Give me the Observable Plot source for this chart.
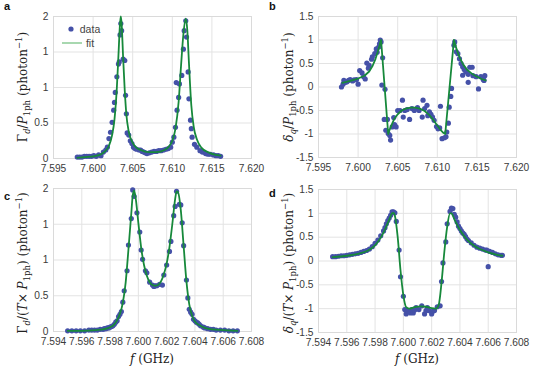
<!DOCTYPE html>
<html><head><meta charset="utf-8">
<script src="https://cdn.jsdelivr.net/npm/d3@7"></script>
<script src="https://cdn.jsdelivr.net/npm/@observablehq/plot@0.6"></script>
<style>
body{margin:0;background:#fff;}
#wrap{position:relative;width:534px;height:375px;overflow:hidden;font-family:"Liberation Sans",Arial,sans-serif;background:#fff;}
.panel{position:absolute;}
.letter{position:absolute;font-weight:bold;font-size:11px;color:#111;line-height:12px;}
</style></head><body><div id="wrap"></div>
<script>
// ---------- Panel a: Γd/P1ph vs f ----------
const aDataF = [7.5980,7.5983,7.5986,7.5989,7.5992,7.5995,7.5998,7.6001,7.6004,7.6007,7.6010,7.6013,7.6016,7.6018,7.6020,7.6022,7.6024,7.6026,7.6027,7.6028,7.6030,7.6032,7.6033,7.6034,7.6035,7.6036,7.6038,7.6040,7.6041,7.6042,7.6043,7.6045,7.6047,7.6049,7.6051,7.6053,7.6055,7.6058,7.6060,7.6062,7.6064,7.6066,7.6068,7.6071,7.6074,7.6077,7.6080,7.6083,7.6086,7.6089,7.6092,7.6095,7.6098,7.6100,7.6102,7.6104,7.6105,7.6106,7.6108,7.6109,7.6112,7.6114,7.6115,7.6117,7.6118,7.6120,7.6121,7.6123,7.6124,7.6125,7.6128,7.6131,7.6135,7.6138,7.6142,7.6145,7.6148,7.6152,7.6155,7.6158,7.6161];
const aDataV = [0.02,0.02,0.02,0.03,0.03,0.03,0.03,0.04,0.03,0.05,0.04,0.09,0.12,0.16,0.28,0.37,0.51,0.68,0.79,0.93,1.15,1.33,1.36,1.74,1.90,1.80,1.40,1.38,0.89,0.63,0.36,0.33,0.25,0.21,0.16,0.14,0.13,0.12,0.12,0.10,0.09,0.08,0.07,0.08,0.09,0.10,0.10,0.11,0.11,0.12,0.13,0.14,0.16,0.23,0.30,0.44,1.07,0.68,0.86,1.05,1.17,1.54,1.80,1.94,1.71,1.22,0.84,0.54,0.42,0.30,0.20,0.16,0.11,0.09,0.07,0.06,0.06,0.05,0.04,0.04,0.03];
const aFitF = [7.5980,7.5990,7.6000,7.6010,7.6015,7.6020,7.6024,7.6027,7.6030,7.6032,7.6034,7.6035,7.6036,7.6038,7.6040,7.6042,7.6045,7.6050,7.6055,7.6060,7.6070,7.6080,7.6090,7.6095,7.6100,7.6104,7.6108,7.6111,7.6114,7.6117,7.6119,7.6121,7.6124,7.6127,7.6131,7.6137,7.6145,7.6155,7.6161];
const aFitV = [0.01,0.02,0.03,0.06,0.10,0.18,0.33,0.55,1.00,1.45,1.90,2.00,1.90,1.40,0.95,0.62,0.38,0.22,0.15,0.12,0.09,0.09,0.12,0.16,0.25,0.42,0.80,1.30,1.75,1.97,1.80,1.35,0.75,0.45,0.27,0.15,0.09,0.05,0.04];

// ---------- Panel b: δq/P1ph vs f ----------
const bDataF = [7.5979,7.5981,7.5982,7.5984,7.5986,7.5988,7.5990,7.5993,7.5995,7.5998,7.6000,7.6002,7.6005,7.6007,7.6009,7.6011,7.6013,7.6014,7.6017,7.6018,7.6021,7.6023,7.6024,7.6026,7.6027,7.6028,7.6029,7.6031,7.6030,7.6034,7.6033,7.6035,7.6037,7.6038,7.6040,7.6041,7.6043,7.6045,7.6046,7.6048,7.6050,7.6053,7.6056,7.6057,7.6059,7.6062,7.6065,7.6068,7.6071,7.6075,7.6077,7.6081,7.6082,7.6084,7.6087,7.6088,7.6090,7.6092,7.6094,7.6096,7.6099,7.6101,7.6103,7.6104,7.6106,7.6109,7.6111,7.6112,7.6114,7.6115,7.6117,7.6118,7.6121,7.6122,7.6124,7.6126,7.6128,7.6130,7.6132,7.6132,7.6134,7.6136,7.6139,7.6139,7.6141,7.6144,7.6145,7.6149,7.6152,7.6155,7.6158,7.6159,7.6160];
const bDataV = [0.00,0.06,0.14,0.10,0.11,0.14,0.16,0.13,0.15,0.16,0.06,0.35,0.30,0.22,0.17,0.51,0.40,0.46,0.59,0.64,0.71,0.81,0.74,0.85,0.92,1.00,0.96,0.62,0.04,-0.05,-0.69,-0.92,-0.69,-0.99,-1.03,-1.13,-0.85,-0.65,-0.80,-0.85,-0.50,-0.50,-0.28,-0.64,-0.50,-0.48,-0.69,-0.46,-0.50,-0.44,-0.50,-0.64,-0.28,-0.46,-0.39,-0.61,-0.53,-0.58,-0.64,-0.71,-0.84,-0.89,-0.87,-0.41,-1.10,-1.08,-1.06,-0.96,-0.77,-0.43,-0.20,-0.03,0.89,0.96,0.75,0.71,0.60,0.50,0.43,0.25,0.37,0.32,0.27,0.10,0.42,0.42,0.24,0.22,-0.04,0.22,0.16,0.14,0.24];
const bFitF = [7.5980,7.5990,7.6000,7.6008,7.6014,7.6018,7.6022,7.6025,7.6027,7.6028,7.6029,7.6038,7.6040,7.6043,7.6046,7.6050,7.6055,7.6060,7.6066,7.6072,7.6078,7.6084,7.6090,7.6095,7.6100,7.6104,7.6108,7.6110,7.6121,7.6123,7.6126,7.6129,7.6133,7.6138,7.6144,7.6150,7.6156,7.6161];
const bFitV = [0.09,0.13,0.18,0.24,0.33,0.44,0.60,0.76,0.88,0.95,1.00,-1.00,-0.90,-0.78,-0.67,-0.58,-0.50,-0.46,-0.44,-0.44,-0.46,-0.51,-0.60,-0.70,-0.82,-0.91,-0.98,-1.00,1.00,0.88,0.72,0.60,0.47,0.36,0.28,0.22,0.17,0.14];

// ---------- Panel c: Γd/(T×P1ph) vs f ----------
const cDataF = [7.5950,7.5953,7.5956,7.5959,7.5962,7.5965,7.5967,7.5969,7.5971,7.5973,7.5975,7.5976,7.5977,7.5978,7.5979,7.5980,7.5981,7.5982,7.5983,7.5984,7.5985,7.5986,7.5987,7.5988,7.5989,7.5990,7.5992,7.5993,7.5995,7.5996,7.5997,7.5999,7.6001,7.6002,7.6003,7.6005,7.6006,7.6008,7.6010,7.6011,7.6012,7.6013,7.6015,7.6017,7.6018,7.6020,7.6022,7.6023,7.6025,7.6026,7.6027,7.6029,7.6030,7.6031,7.6032,7.6034,7.6035,7.6036,7.6037,7.6038,7.6039,7.6040,7.6041,7.6042,7.6043,7.6044,7.6046,7.6047,7.6049,7.6051,7.6053,7.6055,7.6058,7.6061,7.6064,7.6067,7.6070];
const cDataV = [0.01,0.01,0.01,0.01,0.01,0.02,0.02,0.02,0.02,0.03,0.03,0.04,0.04,0.05,0.05,0.06,0.07,0.08,0.10,0.13,0.15,0.21,0.24,0.28,0.41,0.57,0.85,1.21,1.58,1.98,1.89,1.66,1.39,1.14,1.01,0.85,0.82,0.69,0.65,0.63,0.64,0.64,0.66,0.65,0.79,0.93,1.12,1.26,1.62,1.75,1.96,1.78,1.77,1.52,1.20,0.72,0.47,0.31,0.27,0.24,0.17,0.15,0.13,0.12,0.10,0.08,0.06,0.05,0.04,0.03,0.03,0.02,0.02,0.02,0.01,0.01,0.01];
const cFitF = [7.5950,7.5960,7.5970,7.5975,7.5980,7.5983,7.5985,7.5987,7.5989,7.5991,7.5993,7.5995,7.5996,7.5997,7.5998,7.6000,7.6002,7.6004,7.6006,7.6008,7.6010,7.6012,7.6014,7.6016,7.6018,7.6020,7.6022,7.6024,7.6026,7.6027,7.6028,7.6030,7.6032,7.6034,7.6036,7.6038,7.6040,7.6043,7.6047,7.6052,7.6060,7.6070];
const cFitV = [0.01,0.01,0.02,0.03,0.06,0.10,0.16,0.25,0.40,0.68,1.15,1.65,1.90,1.97,1.88,1.52,1.17,0.93,0.78,0.69,0.65,0.64,0.65,0.70,0.80,0.95,1.18,1.50,1.85,1.96,1.95,1.70,1.20,0.70,0.38,0.22,0.14,0.09,0.05,0.03,0.02,0.01];

// ---------- Panel d: δq/(T×P1ph) vs f ----------
const dDataF = [7.5950,7.5952,7.5954,7.5956,7.5958,7.5960,7.5962,7.5964,7.5966,7.5968,7.5970,7.5972,7.5974,7.5976,7.5978,7.5980,7.5982,7.5984,7.5986,7.5987,7.5988,7.5989,7.5990,7.5991,7.5992,7.5993,7.5994,7.5995,7.5997,7.5998,7.6000,7.6001,7.6002,7.6003,7.6004,7.6005,7.6006,7.6007,7.6008,7.6009,7.6011,7.6013,7.6015,7.6016,7.6017,7.6018,7.6020,7.6021,7.6022,7.6024,7.6026,7.6027,7.6028,7.6030,7.6031,7.6033,7.6034,7.6035,7.6036,7.6037,7.6038,7.6039,7.6040,7.6041,7.6042,7.6043,7.6044,7.6045,7.6046,7.6048,7.6050,7.6052,7.6054,7.6056,7.6058,7.6059,7.6060,7.6061,7.6063,7.6065,7.6067,7.6069,7.6070];
const dDataV = [0.09,0.09,0.10,0.11,0.11,0.12,0.13,0.14,0.15,0.16,0.18,0.20,0.22,0.25,0.30,0.37,0.44,0.53,0.63,0.70,0.78,0.85,0.90,0.96,1.03,1.03,1.01,0.83,0.23,-0.33,-0.74,-1.02,-1.11,-1.04,-1.06,-1.09,-1.02,-1.09,-1.03,-0.98,-1.02,-0.94,-1.11,-1.04,-0.98,-1.04,-1.11,-1.05,-1.04,-0.96,-0.94,-0.43,-0.04,0.40,0.78,1.04,1.11,1.10,0.98,0.92,0.82,0.73,0.68,0.63,0.59,0.56,0.51,0.46,0.43,0.38,0.33,0.29,0.27,0.25,0.23,0.23,-0.12,0.20,0.18,0.15,0.13,0.12,0.12];
const dFitF = [7.5950,7.5960,7.5968,7.5975,7.5980,7.5984,7.5987,7.5990,7.5992,7.5993,7.5994,7.5996,7.5998,7.6000,7.6002,7.6004,7.6008,7.6012,7.6016,7.6020,7.6023,7.6025,7.6027,7.6029,7.6031,7.6033,7.6034,7.6036,7.6040,7.6045,7.6050,7.6055,7.6060,7.6065,7.6070];
const dFitV = [0.08,0.11,0.15,0.22,0.33,0.49,0.66,0.87,1.00,1.01,0.95,0.50,-0.20,-0.72,-0.97,-1.00,-0.97,-0.95,-0.96,-0.99,-1.00,-0.92,-0.45,0.20,0.72,1.00,1.00,0.88,0.65,0.45,0.32,0.24,0.18,0.14,0.11];

// ---------- ticks ----------
const xTicksTop = [7.595,7.600,7.605,7.610,7.615,7.620];
const xTicksBottom = [7.594,7.596,7.598,7.600,7.602,7.604,7.606,7.608];
const gammaTicks = [0,0.5,1,1.5,2];
const gammaTickLabels = ["0","0.5","1","1","2"];
const deltaTicks = [-1.5,-1,-0.5,0,0.5,1,1.5];
const deltaTickLabels = ["-1.5","-1","-0.5","0","0.5","1","1.5"];

const DOT = "#4551a8", FIT = "#17893b", GRID = "#e3e3e3", TXT = "#3a3a3a";

const wrap = document.getElementById("wrap");

function addYLabel(svg, x, y, parts) {
  const t = d3.select(svg).append("text")
    .attr("transform", `translate(${x},${y}) rotate(-90)`)
    .attr("text-anchor", "middle")
    .attr("font-family", "DejaVu Serif, serif")
    .attr("font-size", 12)
    .attr("fill", "#222");
  let shift = 0;
  for (const p of parts) {
    const s = t.append("tspan").text(p.t);
    const target = p.sub ? 3 : p.sup ? -5 : 0;
    s.attr("dy", target - shift); shift = target;
    if (p.sub || p.sup) s.attr("font-size", 8.5);
    if (p.it) s.attr("font-style", "italic");
  }
}

function addXLabel(svg, x, y) {
  const t = d3.select(svg).append("text")
    .attr("x", x).attr("y", y)
    .attr("text-anchor", "middle")
    .attr("font-family", "DejaVu Serif, serif")
    .attr("font-size", 12).attr("fill", "#222");
  t.append("tspan").attr("font-style", "italic").text("f");
  t.append("tspan").text(" (GHz)");
}

function panel(o) {
  const data = o.dataF.map((f, i) => ({f, v: o.dataV[i]}));
  const fit = o.fitF.map((f, i) => ({f, v: o.fitV[i]}));
  const yMap = new Map(o.yTicks.map((t, i) => [t, o.yLabels[i]]));
  const svg = Plot.plot({
    width: o.width, height: o.height,
    marginTop: o.mt, marginBottom: o.mb, marginLeft: o.ml, marginRight: o.mr,
    style: {background: "transparent", overflow: "visible", fontFamily: "Liberation Sans, Arial, sans-serif", fontSize: "10.2px", color: TXT},
    x: {domain: o.xDomain, axis: null},
    y: {domain: o.yDomain, axis: null},
    marks: [
      Plot.gridX(o.xTicks, {stroke: GRID, strokeOpacity: 1}),
      Plot.gridY(o.yTicks, {stroke: GRID, strokeOpacity: 1}),
      Plot.frame({stroke: "#dadada"}),
      Plot.axisX(o.xTicks, {tickSize: 0, tickPadding: 6, tickFormat: d3.format(".3f"), label: null, fill: TXT}),
      Plot.axisY(o.yTicks, {tickSize: 0, tickPadding: 5, tickFormat: d => yMap.get(d), label: null, fill: TXT}),
      Plot.dot(data, {x: "f", y: "v", r: 2.6, fill: DOT}),
      Plot.line(fit, {x: "f", y: "v", stroke: FIT, strokeWidth: 1.8, curve: o.curve})
    ]
  });
  const div = document.createElement("div");
  div.className = "panel";
  div.style.left = o.left + "px"; div.style.top = o.top + "px";
  div.appendChild(svg);
  wrap.appendChild(div);
  return svg;
}

const gLabelA = [{t:"Γ"},{t:"d",sub:1,it:1},{t:"/"},{t:"P",it:1},{t:"1ph",sub:1},{t:" (photon"},{t:"−1",sup:1},{t:")"}];
const dLabelB = [{t:"δ",it:1},{t:"q",sub:1,it:1},{t:"/"},{t:"P",it:1},{t:"1ph",sub:1},{t:" (photon"},{t:"−1",sup:1},{t:")"}];
const gLabelC = [{t:"Γ"},{t:"d",sub:1,it:1},{t:"/("},{t:"T",it:1},{t:"× "},{t:"P",it:1},{t:"1ph",sub:1},{t:") (photon"},{t:"−1",sup:1},{t:")"}];
const dLabelD = [{t:"δ",it:1},{t:"q",sub:1,it:1},{t:"/("},{t:"T",it:1},{t:"× "},{t:"P",it:1},{t:"1ph",sub:1},{t:") (photon"},{t:"−1",sup:1},{t:")"}];

const svgA = panel({left:0, top:0, width:267, height:185, mt:16, mb:27, ml:53, mr:16,
  xDomain:[7.595,7.620], xTicks:xTicksTop, yDomain:[0,2], yTicks:gammaTicks, yLabels:gammaTickLabels,
  dataF:aDataF, dataV:aDataV, fitF:aFitF, fitV:aFitV, curve:"monotone-x"});
addYLabel(svgA, 27, 87, gLabelA);
// legend
{
  const g = d3.select(svgA).append("g").attr("font-family", "Liberation Sans, Arial, sans-serif").attr("font-size", 10.5).attr("fill", "#444");
  g.append("circle").attr("cx", 71).attr("cy", 29).attr("r", 2.6).attr("fill", DOT);
  g.append("text").attr("x", 90).attr("y", 29).attr("dy", "0.35em").text("data");
  g.append("line").attr("x1", 62).attr("x2", 82).attr("y1", 43).attr("y2", 43).attr("stroke", "#9fd4a8").attr("stroke-width", 1.8);
  g.append("text").attr("x", 90).attr("y", 43).attr("dy", "0.35em").text("fit");
}

const svgB = panel({left:265, top:0, width:269, height:185, mt:16, mb:28, ml:53, mr:18,
  xDomain:[7.595,7.620], xTicks:xTicksTop, yDomain:[-1.5,1.5], yTicks:deltaTicks, yLabels:deltaTickLabels,
  dataF:bDataF, dataV:bDataV, fitF:bFitF, fitV:bFitV, curve:"linear"});
addYLabel(svgB, 28, 87, dLabelB);

const svgC = panel({left:0, top:185, width:267, height:190, mt:3, mb:44, ml:53, mr:16,
  xDomain:[7.594,7.608], xTicks:xTicksBottom, yDomain:[0,2], yTicks:gammaTicks, yLabels:gammaTickLabels,
  dataF:cDataF, dataV:cDataV, fitF:cFitF, fitV:cFitV, curve:"monotone-x"});
addYLabel(svgC, 27, 78, gLabelC);
addXLabel(svgC, 152, 178);

const svgD = panel({left:265, top:185, width:269, height:190, mt:4, mb:43, ml:53, mr:18,
  xDomain:[7.594,7.608], xTicks:xTicksBottom, yDomain:[-1.5,1.5], yTicks:deltaTicks, yLabels:deltaTickLabels,
  dataF:dDataF, dataV:dDataV, fitF:dFitF, fitV:dFitV, curve:"monotone-x"});
addYLabel(svgD, 28, 78, dLabelD);
addXLabel(svgD, 152, 178);

for (const [ch, l, t] of [["a",4,0],["b",269,0],["c",4,190],["d",269,187]]) {
  const e = document.createElement("div");
  e.className = "letter"; e.textContent = ch;
  e.style.left = l + "px"; e.style.top = t + "px";
  wrap.appendChild(e);
}
</script>
</body></html>
